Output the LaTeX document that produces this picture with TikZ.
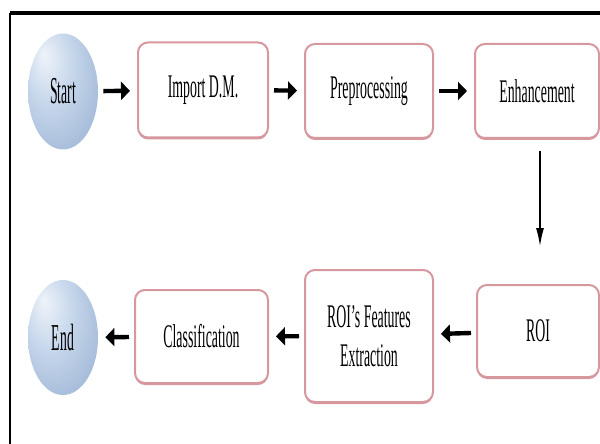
\documentclass[tikz,border=0pt]{standalone}
\usepackage{fontspec}
\setmainfont{Liberation Serif}
\newfontfamily\narrowserif[FakeStretch=0.42]{Liberation Serif}
\newfontfamily\capserif[FakeStretch=0.36]{Liberation Serif}
\usepackage{xcolor}
\usepackage{tikz}
\usetikzlibrary{arrows.meta,shapes.geometric,shadows}
\definecolor{boxline}{RGB}{214,152,158}
\definecolor{capedge}{RGB}{152,176,210}
\definecolor{capmid}{RGB}{200,216,236}
\pgfdeclareradialshading{capshade}{\pgfpoint{-14bp}{16bp}}{color(0bp)=(capmid!30!white); color(16bp)=(capmid); color(42bp)=(capedge); color(60bp)=(capedge!75!black)}

\begin{document}
\begin{tikzpicture}[x=0.5pt,y=-0.5pt,
  stepbox/.style={draw=boxline, line width=1pt, rounded corners=5pt, fill=white,
    inner sep=0pt, align=center, font=\narrowserif\fontsize{16.5}{19.5}\selectfont,
    drop shadow={shadow xshift=0pt, shadow yshift=-1pt, fill=boxline, opacity=1}},
  capnode/.style={ellipse, shading=capshade, inner sep=0pt,
    minimum width=35pt, minimum height=58pt, font=\capserif\fontsize{19}{19}\selectfont},
  flow/.style={-{Triangle[length=4.5pt,width=9pt]}, line width=2.2pt,
    shorten <=2.5pt, shorten >=3.5pt}]
\useasboundingbox (0,0) rectangle (600,444);
% FRAME
\draw[line width=2pt] (10,13) -- (600,13);
\draw[line width=0.8pt] (10,13) -- (10,444);
% TOP ROW
\node[capnode] (start) at (63,91.5) {Start};
\node[stepbox, minimum width=65pt, minimum height=47.5pt] (import) at (203,90) {Import D.M.};
\node[stepbox, minimum width=64pt, minimum height=47pt] (prep) at (369,91) {Preprocessing};
\node[stepbox, minimum width=62pt, minimum height=47pt] (enh) at (537,91) {Enhancement};
% BOTTOM ROW
\node[stepbox, minimum width=61pt, minimum height=46pt] (roi) at (538,331) {ROI};
\node[stepbox, minimum width=64pt, minimum height=66pt] (feat) at (369,336) {ROI’s Features\\Extraction};
\node[stepbox, minimum width=66.5pt, minimum height=46.5pt] (class) at (201.5,336.5) {Classification};
\node[capnode, minimum height=57.5pt] (end) at (63,337.5) {End};
% ARROWS
\draw[flow] (start) -- (import);
\draw[flow] (import) -- (prep);
\draw[flow] (prep) -- (enh);
\draw[-{Latex[length=9pt,width=4pt]}, line width=0.6pt, shorten <=6pt, shorten >=19pt]
  ([xshift=1.5pt]enh.south) -- ([xshift=1.5pt]enh.south |- roi.north);
\draw[flow] (roi) -- (feat);
\draw[flow] (feat) -- (class);
\draw[flow] (class) -- (end);
\end{tikzpicture}
\end{document}
